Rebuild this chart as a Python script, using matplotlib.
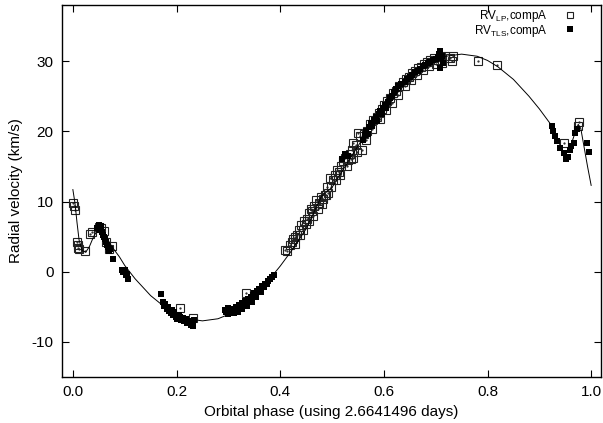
import numpy as np
import matplotlib
matplotlib.use("Agg")
import matplotlib.pyplot as plt

plt.rcParams['font.family'] = ['Liberation Sans', 'DejaVu Sans']
plt.rcParams['mathtext.fontset'] = 'custom'
plt.rcParams['mathtext.rm'] = 'Liberation Sans'
plt.rcParams['mathtext.it'] = 'Liberation Sans:italic'
plt.rcParams['axes.unicode_minus'] = False

# model curve (phase, km/s)
model_phase = [0.000, 0.004, 0.008, 0.012, 0.018, 0.025, 0.032, 0.040, 0.048, 0.053,
               0.058, 0.065, 0.075, 0.090, 0.100, 0.120, 0.150, 0.180, 0.200, 0.220,
               0.250, 0.280, 0.300, 0.320, 0.350, 0.380, 0.400, 0.420, 0.450, 0.480,
               0.500, 0.520, 0.550, 0.580, 0.600, 0.620, 0.650, 0.680, 0.700, 0.720,
               0.750, 0.780, 0.800, 0.820, 0.850, 0.880, 0.900, 0.920, 0.935, 0.945,
               0.952, 0.960, 0.968, 0.975, 0.980, 0.987, 0.993, 1.000]
model_rv = [11.7, 9.8, 7.0, 4.5, 3.0, 2.8, 3.6, 5.0, 6.0, 6.2,
            5.8, 4.9, 3.6, 2.1, 0.9, -1.0, -3.4, -5.2, -6.1, -6.7,
            -7.0, -6.7, -6.1, -5.2, -3.4, -1.0, 0.8, 2.8, 6.1, 10.8,
            12.0, 14.4, 17.9, 21.2, 23.2, 25.0, 27.4, 29.2, 30.1, 30.7,
            31.0, 30.7, 30.1, 29.2, 27.4, 25.0, 23.2, 21.2, 18.8, 17.3,
            16.9, 17.8, 19.6, 21.0, 20.4, 17.5, 15.0, 12.3]

# RV_LP (open squares)
lp_phase = [0.001, 0.003, 0.004, 0.008, 0.010, 0.009, 0.011, 0.024, 0.033, 0.036,
            0.050, 0.055, 0.060, 0.063, 0.070, 0.075, 0.207, 0.232, 0.335,
            0.409, 0.413, 0.419, 0.422, 0.425, 0.429, 0.432, 0.436, 0.441, 0.446,
            0.449, 0.452, 0.456, 0.459, 0.462, 0.466, 0.470, 0.474, 0.478, 0.483,
            0.486, 0.490, 0.493, 0.496, 0.502, 0.506, 0.510, 0.514, 0.518, 0.522,
            0.525, 0.530, 0.534, 0.538, 0.541, 0.541, 0.546, 0.551, 0.554, 0.557,
            0.562, 0.568, 0.574, 0.580, 0.586, 0.590, 0.596, 0.600, 0.606, 0.612,
            0.618, 0.624, 0.630, 0.636, 0.642, 0.648, 0.654, 0.660, 0.666, 0.672,
            0.678, 0.684, 0.690, 0.696, 0.702, 0.710, 0.718, 0.731, 0.733, 0.782,
            0.818, 0.947, 0.974, 0.976,
            0.428, 0.438, 0.444, 0.455, 0.464, 0.472, 0.480, 0.488, 0.498, 0.508,
            0.516, 0.528, 0.536, 0.548, 0.565, 0.578, 0.592, 0.604, 0.615, 0.628,
            0.640, 0.652, 0.664, 0.676, 0.688, 0.700, 0.712, 0.727]
lp_rv = [9.8, 9.3, 8.8, 4.3, 3.8, 3.4, 3.2, 2.9, 5.4, 5.6,
         6.4, 6.2, 5.8, 4.3, 3.3, 3.6, -5.2, -6.6, -3.0,
         3.1, 3.0, 3.8, 4.2, 4.6, 5.0, 5.3, 6.0, 6.6, 7.2,
         6.8, 7.5, 8.3, 9.0, 8.6, 9.4, 10.2, 9.8, 10.6, 10.3,
         11.0, 12.0, 11.2, 13.3, 13.0, 13.8, 14.5, 14.2, 15.0, 15.8,
         16.2, 15.9, 16.8, 17.4, 18.3, 16.2, 18.0, 19.8, 19.3, 17.4,
         19.6, 20.0, 21.0, 21.6, 22.0, 22.6, 23.2, 23.8, 24.3, 24.8,
         25.4, 25.8, 26.5, 27.0, 27.4, 27.8, 28.3, 28.6, 29.0, 29.2,
         29.6, 29.9, 30.1, 30.4, 30.2, 30.6, 30.8, 30.0, 30.8, 30.0,
         29.4, 18.3, 20.8, 21.4,
         3.9, 5.2, 6.0, 7.2, 8.0, 9.0, 9.7, 10.9, 12.0, 13.0,
         13.8, 15.0, 16.0, 17.0, 18.8, 20.4, 21.8, 23.0, 24.0, 25.2,
         26.4, 27.3, 28.0, 28.8, 29.3, 29.6, 29.8, 30.4]

# RV_TLS (filled squares)
tls_phase = [0.047, 0.050, 0.052, 0.054, 0.056, 0.058, 0.060, 0.062, 0.064, 0.066,
             0.068, 0.070, 0.072, 0.078, 0.094, 0.097, 0.100, 0.102, 0.105, 0.106,
             0.170, 0.173, 0.176, 0.178, 0.181, 0.184, 0.186, 0.189, 0.191, 0.194,
             0.196, 0.199, 0.201, 0.204, 0.207, 0.209, 0.212, 0.215, 0.218, 0.221,
             0.224, 0.227, 0.230, 0.232, 0.233,
             0.293, 0.296, 0.299, 0.302, 0.305, 0.308, 0.311, 0.314, 0.317, 0.320,
             0.323, 0.326, 0.329, 0.332, 0.335, 0.338, 0.341, 0.344, 0.347, 0.350,
             0.353, 0.356, 0.359, 0.362, 0.365, 0.368, 0.371, 0.374, 0.377, 0.380,
             0.384, 0.388,
             0.300, 0.310, 0.318, 0.327, 0.336, 0.345, 0.354, 0.363,
             0.520, 0.525, 0.530, 0.560, 0.563, 0.566, 0.569, 0.572, 0.575, 0.578,
             0.581, 0.584, 0.587, 0.590, 0.593, 0.596, 0.599, 0.602, 0.605, 0.608,
             0.612, 0.616, 0.620, 0.624, 0.628, 0.650, 0.655, 0.660, 0.665, 0.670,
             0.675, 0.680, 0.685, 0.690, 0.695, 0.700, 0.704, 0.706, 0.708, 0.710,
             0.712, 0.708, 0.714, 0.634, 0.640, 0.645,
             0.924, 0.927, 0.930, 0.934, 0.940, 0.947, 0.951, 0.953, 0.956, 0.959,
             0.962, 0.966, 0.969, 0.972, 0.992, 0.995]
tls_rv = [6.2, 6.7, 6.0, 6.5, 5.6, 5.3, 5.0, 4.6, 4.2, 3.8,
          3.5, 3.0, 3.2, 1.8, 0.3, -0.1, 0.2, -0.4, -0.3, -1.0,
          -3.2, -4.3, -4.9, -4.6, -5.3, -5.0, -5.6, -5.9, -5.4, -6.2,
          -5.8, -6.4, -6.7, -6.1, -6.5, -6.9, -6.6, -7.0, -6.8, -7.3,
          -7.0, -7.6, -7.4, -7.8, -6.9,
          -5.4, -5.8, -5.2, -5.6, -5.9, -5.3, -5.6, -5.0, -5.4, -4.8,
          -5.1, -4.5, -4.8, -4.2, -4.5, -3.9, -4.2, -3.6, -3.3, -3.0,
          -3.3, -2.7, -2.4, -2.6, -2.0, -2.2, -1.7, -1.8, -1.3, -1.0,
          -0.8, -0.5,
          -6.0, -5.9, -5.7, -5.3, -4.9, -4.3, -3.6, -2.9,
          16.0, 16.8, 16.5, 18.8, 19.5, 20.0, 19.6, 20.6, 21.2, 20.8,
          21.6, 22.1, 21.5, 22.4, 22.9, 22.4, 23.3, 23.8, 23.3, 24.2,
          24.7, 25.1, 25.6, 26.0, 26.4, 27.8, 28.0, 28.4, 28.6, 28.9,
          29.3, 29.5, 29.8, 29.9, 30.1, 30.3, 30.6, 31.0, 31.4, 30.5,
          30.8, 29.0, 29.7, 26.8, 27.1, 27.5,
          20.7, 20.0, 19.3, 18.6, 17.6, 16.9, 16.1, 16.4, 16.4, 17.4,
          17.9, 18.3, 19.8, 20.3, 18.3, 17.1]

fig = plt.figure(figsize=(6.03, 4.23), dpi=100)
ax = fig.add_axes([0.1028, 0.1087, 0.8939, 0.8795])

ax.plot(model_phase, model_rv, color='black', lw=0.7, zorder=3)
ax.plot(lp_phase, lp_rv, ls='none', marker='s', ms=5.4, mfc='none',
        mec='#222222', mew=0.8, zorder=2, label=r'RV$_{\mathrm{LP}}$,compA')
ax.plot(lp_phase, lp_rv, ls='none', marker='.', ms=1.2, color='#222222', zorder=2)
ax.plot(tls_phase, tls_rv, ls='none', marker='s', ms=5.0, color='black', mew=0,
        zorder=2, label=r'RV$_{\mathrm{TLS}}$,compA')

ax.set_xlim(-0.021, 1.019)
ax.set_ylim(-15, 38)
ax.set_xticks([0.0, 0.2, 0.4, 0.6, 0.8, 1.0])
ax.set_xticklabels(['0.0', '0.2', '0.4', '0.6', '0.8', '1.0'])
ax.set_yticks([-10, 0, 10, 20, 30])
ax.tick_params(direction='in', top=True, right=True, length=5, width=0.8,
               labelsize=11, pad=6)
for s in ax.spines.values():
    s.set_linewidth(1.0)

ax.set_xlabel('Orbital phase (using 2.6641496 days)', fontsize=11, labelpad=4)
ax.set_ylabel('Radial velocity (km/s)', fontsize=11, labelpad=6)

ax.legend(loc='upper right', bbox_to_anchor=(0.953, 0.992), frameon=False,
          markerfirst=False, fontsize=8.5, handlelength=1.0, handletextpad=1.4,
          labelspacing=-0.12, borderpad=0, borderaxespad=0, numpoints=1,
          markerscale=0.9)

fig.savefig('out.png', dpi=100)
